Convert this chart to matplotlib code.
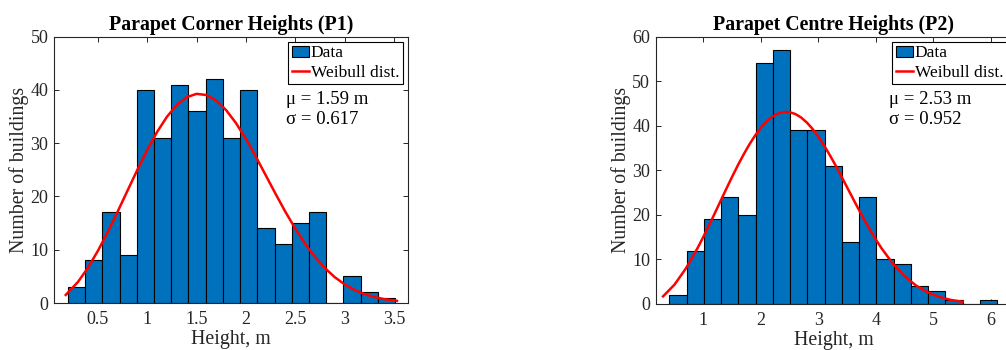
import numpy as np
import matplotlib
matplotlib.use("Agg")
import matplotlib.pyplot as plt
from matplotlib.patches import Patch
from matplotlib.lines import Line2D

plt.rcParams['font.family'] = ['Liberation Serif', 'DejaVu Serif']

# ---------------- data ----------------
p1_title = "Parapet Corner Heights (P1)"
p1_bin_start, p1_bin_end = 0.198, 3.51
p1_counts = [3, 8, 17, 9, 40, 31, 41, 36, 42, 31, 40, 14, 11, 15, 17, 0, 5, 2, 1]
p1_fit_x = [0.175, 0.3, 0.4, 0.5, 0.6, 0.7, 0.8, 0.9, 1.0, 1.1, 1.2, 1.3, 1.4, 1.5,
            1.6, 1.7, 1.8, 1.9, 2.0, 2.1, 2.2, 2.3, 2.4, 2.5, 2.6, 2.7, 2.8, 2.9,
            3.0, 3.1, 3.2, 3.3, 3.4, 3.53]
p1_fit_y = [1.52, 3.98, 6.62, 9.77, 13.31, 17.13, 21.07, 24.99, 28.72, 32.10, 34.97,
            37.18, 38.64, 39.27, 39.05, 38.01, 36.21, 33.77, 30.81, 27.50, 24.01,
            20.51, 17.12, 13.97, 11.12, 8.64, 6.56, 4.85, 3.50, 2.46, 1.68, 1.12,
            0.73, 0.40]
p1_stats = "\u03bc = 1.59 m\n\u03c3 = 0.617"
p1_xticks = [0.5, 1, 1.5, 2, 2.5, 3, 3.5]
p1_xticklabels = ["0.5", "1", "1.5", "2", "2.5", "3", "3.5"]
p1_yticks = [0, 10, 20, 30, 40, 50]

p2_title = "Parapet Centre Heights (P2)"
p2_bin_start, p2_bin_end = 0.409, 6.113
p2_counts = [2, 12, 19, 24, 20, 54, 57, 39, 39, 31, 14, 24, 10, 9, 4, 3, 1, 0, 1]
p2_fit_x = [0.30, 0.5, 0.7, 0.9, 1.0, 1.1, 1.2, 1.3, 1.4, 1.5, 1.6, 1.7, 1.8, 1.9,
            2.0, 2.1, 2.2, 2.3, 2.4, 2.5, 2.6, 2.7, 2.8, 2.9, 3.0, 3.1, 3.2, 3.3,
            3.4, 3.5, 3.6, 3.7, 3.8, 3.9, 4.0, 4.1, 4.3, 4.5, 4.7, 4.9, 5.1, 5.3, 5.51]
p2_fit_y = [1.71, 4.36, 8.04, 12.55, 15.06, 17.67, 20.37, 23.12, 25.85, 28.53, 31.11,
            33.54, 35.79, 37.80, 39.53, 40.96, 42.04, 42.76, 43.10, 43.06, 42.65,
            41.87, 40.74, 39.30, 37.57, 35.60, 33.43, 31.12, 28.69, 26.21, 23.74,
            21.28, 18.90, 16.63, 14.49, 12.50, 9.02, 6.25, 4.15, 2.64, 1.61, 0.93, 0.50]
p2_stats = "\u03bc = 2.53 m\n\u03c3 = 0.952"
p2_xticks = [1, 2, 3, 4, 5, 6]
p2_xticklabels = ["1", "2", "3", "4", "5", "6"]
p2_yticks = [0, 10, 20, 30, 40, 50, 60]

xlabel = "Height, m"
ylabel = "Number of buildings"
legend_labels = ["Data", "Weibull dist."]

# ---------------- style ----------------
BAR = "#0072BD"
AX = "#262626"
FS_TICK = 13
FS_LABEL = 14.3
FS_TITLE = 14.3
FS_LEG = 12.5
FS_STATS = 13.5

W, H = 1006, 350
fig = plt.figure(figsize=(W / 100, H / 100), dpi=100)


def px_axes(l, r, t, b):
    return fig.add_axes([l / W, 1 - b / H, (r - l) / W, (b - t) / H])


def panel(ax, title, bstart, bend, counts, fx, fy, stats, xticks, xtl, yticks, xlim, ylim):
    edges = np.linspace(bstart, bend, len(counts) + 1)
    ax.bar(edges[:-1], counts, width=np.diff(edges), align='edge', color=BAR,
           edgecolor='black', linewidth=0.8, zorder=2)
    ax.plot(fx, fy, color='#FF0000', linewidth=1.8, zorder=3)
    ax.set_xlim(*xlim)
    ax.set_ylim(*ylim)
    ax.set_xticks(xticks)
    ax.set_xticklabels(xtl)
    ax.set_yticks(yticks)
    ax.tick_params(direction='in', length=3.5, width=0.7, top=True, right=True,
                   labelsize=FS_TICK, colors=AX)
    ax.tick_params(axis='x', pad=6)
    ax.tick_params(axis='y', pad=4)
    for s in ax.spines.values():
        s.set_color(AX)
        s.set_linewidth(0.8)
    ax.set_title(title, fontsize=FS_TITLE, fontweight='bold', pad=5)
    ax.set_xlabel(xlabel, fontsize=FS_LABEL, color=AX, labelpad=1)
    ax.set_ylabel(ylabel, fontsize=FS_LABEL, color=AX, labelpad=1)
    handles = [Patch(facecolor=BAR, edgecolor='black', linewidth=0.8),
               Line2D([0], [0], color='#FF0000', linewidth=1.8)]
    leg = ax.legend(handles, legend_labels, loc='upper right', fontsize=FS_LEG,
                    frameon=True, fancybox=False, framealpha=1, edgecolor='black',
                    borderpad=0.2, labelspacing=0.2, handlelength=1.0,
                    handleheight=0.6, handletextpad=0.1, borderaxespad=0.3)
    leg.get_frame().set_linewidth(0.8)
    ax.text(0.655, 0.795, stats, transform=ax.transAxes, fontsize=FS_STATS, va='top',
            ha='left', linespacing=1.2, color='black')


ax1 = px_axes(54, 408, 36.7, 303)
panel(ax1, p1_title, p1_bin_start, p1_bin_end, p1_counts, p1_fit_x, p1_fit_y,
      p1_stats, p1_xticks, p1_xticklabels, p1_yticks, (0.056, 3.642), (0, 50))

ax2 = px_axes(655.7, 1012, 36.7, 304)
panel(ax2, p2_title, p2_bin_start, p2_bin_end, p2_counts, p2_fit_x, p2_fit_y,
      p2_stats, p2_xticks, p2_xticklabels, p2_yticks, (0.172, 6.369), (0, 60))

fig.savefig("out.png", dpi=100)
